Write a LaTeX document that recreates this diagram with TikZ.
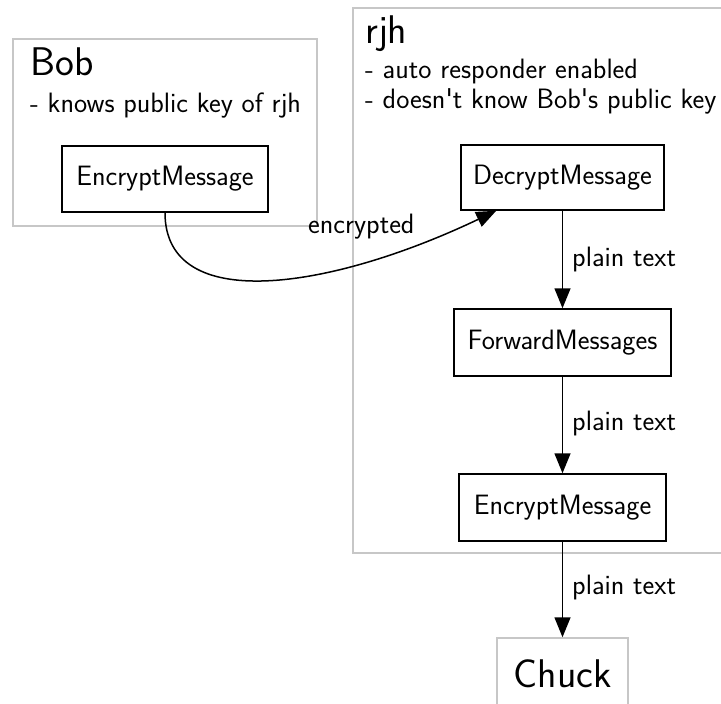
\documentclass[tikz,border=0pt]{standalone}
\usetikzlibrary{arrows.meta}
\begin{document}
\begin{tikzpicture}[x=1pt,y=-1pt,font=\sffamily\fontsize{28}{34}\selectfont,
  cluster/.style={draw=black!22,line width=1.5pt},
  procbox/.style={draw=black,line width=1.5pt,inner sep=0pt},
  flow/.style={line width=1.5pt,-{Triangle[length=20pt,width=16pt]}},
  title/.style={font=\sffamily\fontsize{40}{48}\selectfont,anchor=base west,inner sep=0pt},
  note/.style={anchor=base west,inner sep=0pt}]
\clip (0,0) rectangle (721,704);
\useasboundingbox (0,0) rectangle (721,704);
% clusters
\draw[cluster] (13,39) rectangle (317,226);
\draw[cluster] (353,8) rectangle (730,553);
\node[title] (bobt) at (30,75) {Bob};
\node[note] (bobn) at (30,112) {- knows public key of rjh};
\node[title] (rjht) at (365,43) {rjh};
\node[note] (rjhn1) at (365,78) {- auto responder enabled};
\node[note] (rjhn2) at (365,108) {- doesn\textquotesingle t know Bob\textquotesingle s public key};
% nodes
\node[procbox,minimum width=206pt,minimum height=66pt] (benc) at (165,179) {EncryptMessage};
\node[procbox,minimum width=203pt,minimum height=65pt] (dec) at (562.5,177.5) {DecryptMessage};
\node[procbox,minimum width=217pt,minimum height=67pt] (fwd) at (562.5,342.5) {ForwardMessages};
\node[procbox,minimum width=207pt,minimum height=67pt] (enc) at (562.5,507.5) {EncryptMessage};
\node[draw=black!22,line width=1.5pt,minimum width=131pt,minimum height=72pt,
  font=\sffamily\fontsize{40}{48}\selectfont] (chuck) at (562.5,674) {Chuck};
% edges
\draw[flow] (benc.south) .. controls (165,315) and (330,290) .. ([xshift=36pt]dec.south west);
\node[note] (lenc) at (308,233) {encrypted};
\draw[flow] (dec.south) -- (fwd.north);
\node[note] (l1) at (572,266) {plain text};
\draw[flow] (fwd.south) -- (enc.north);
\node[note] (l2) at (572,430) {plain text};
\draw[flow] (enc.south) -- (chuck.north);
\node[note] (l3) at (572,594) {plain text};
\end{tikzpicture}
\end{document}
